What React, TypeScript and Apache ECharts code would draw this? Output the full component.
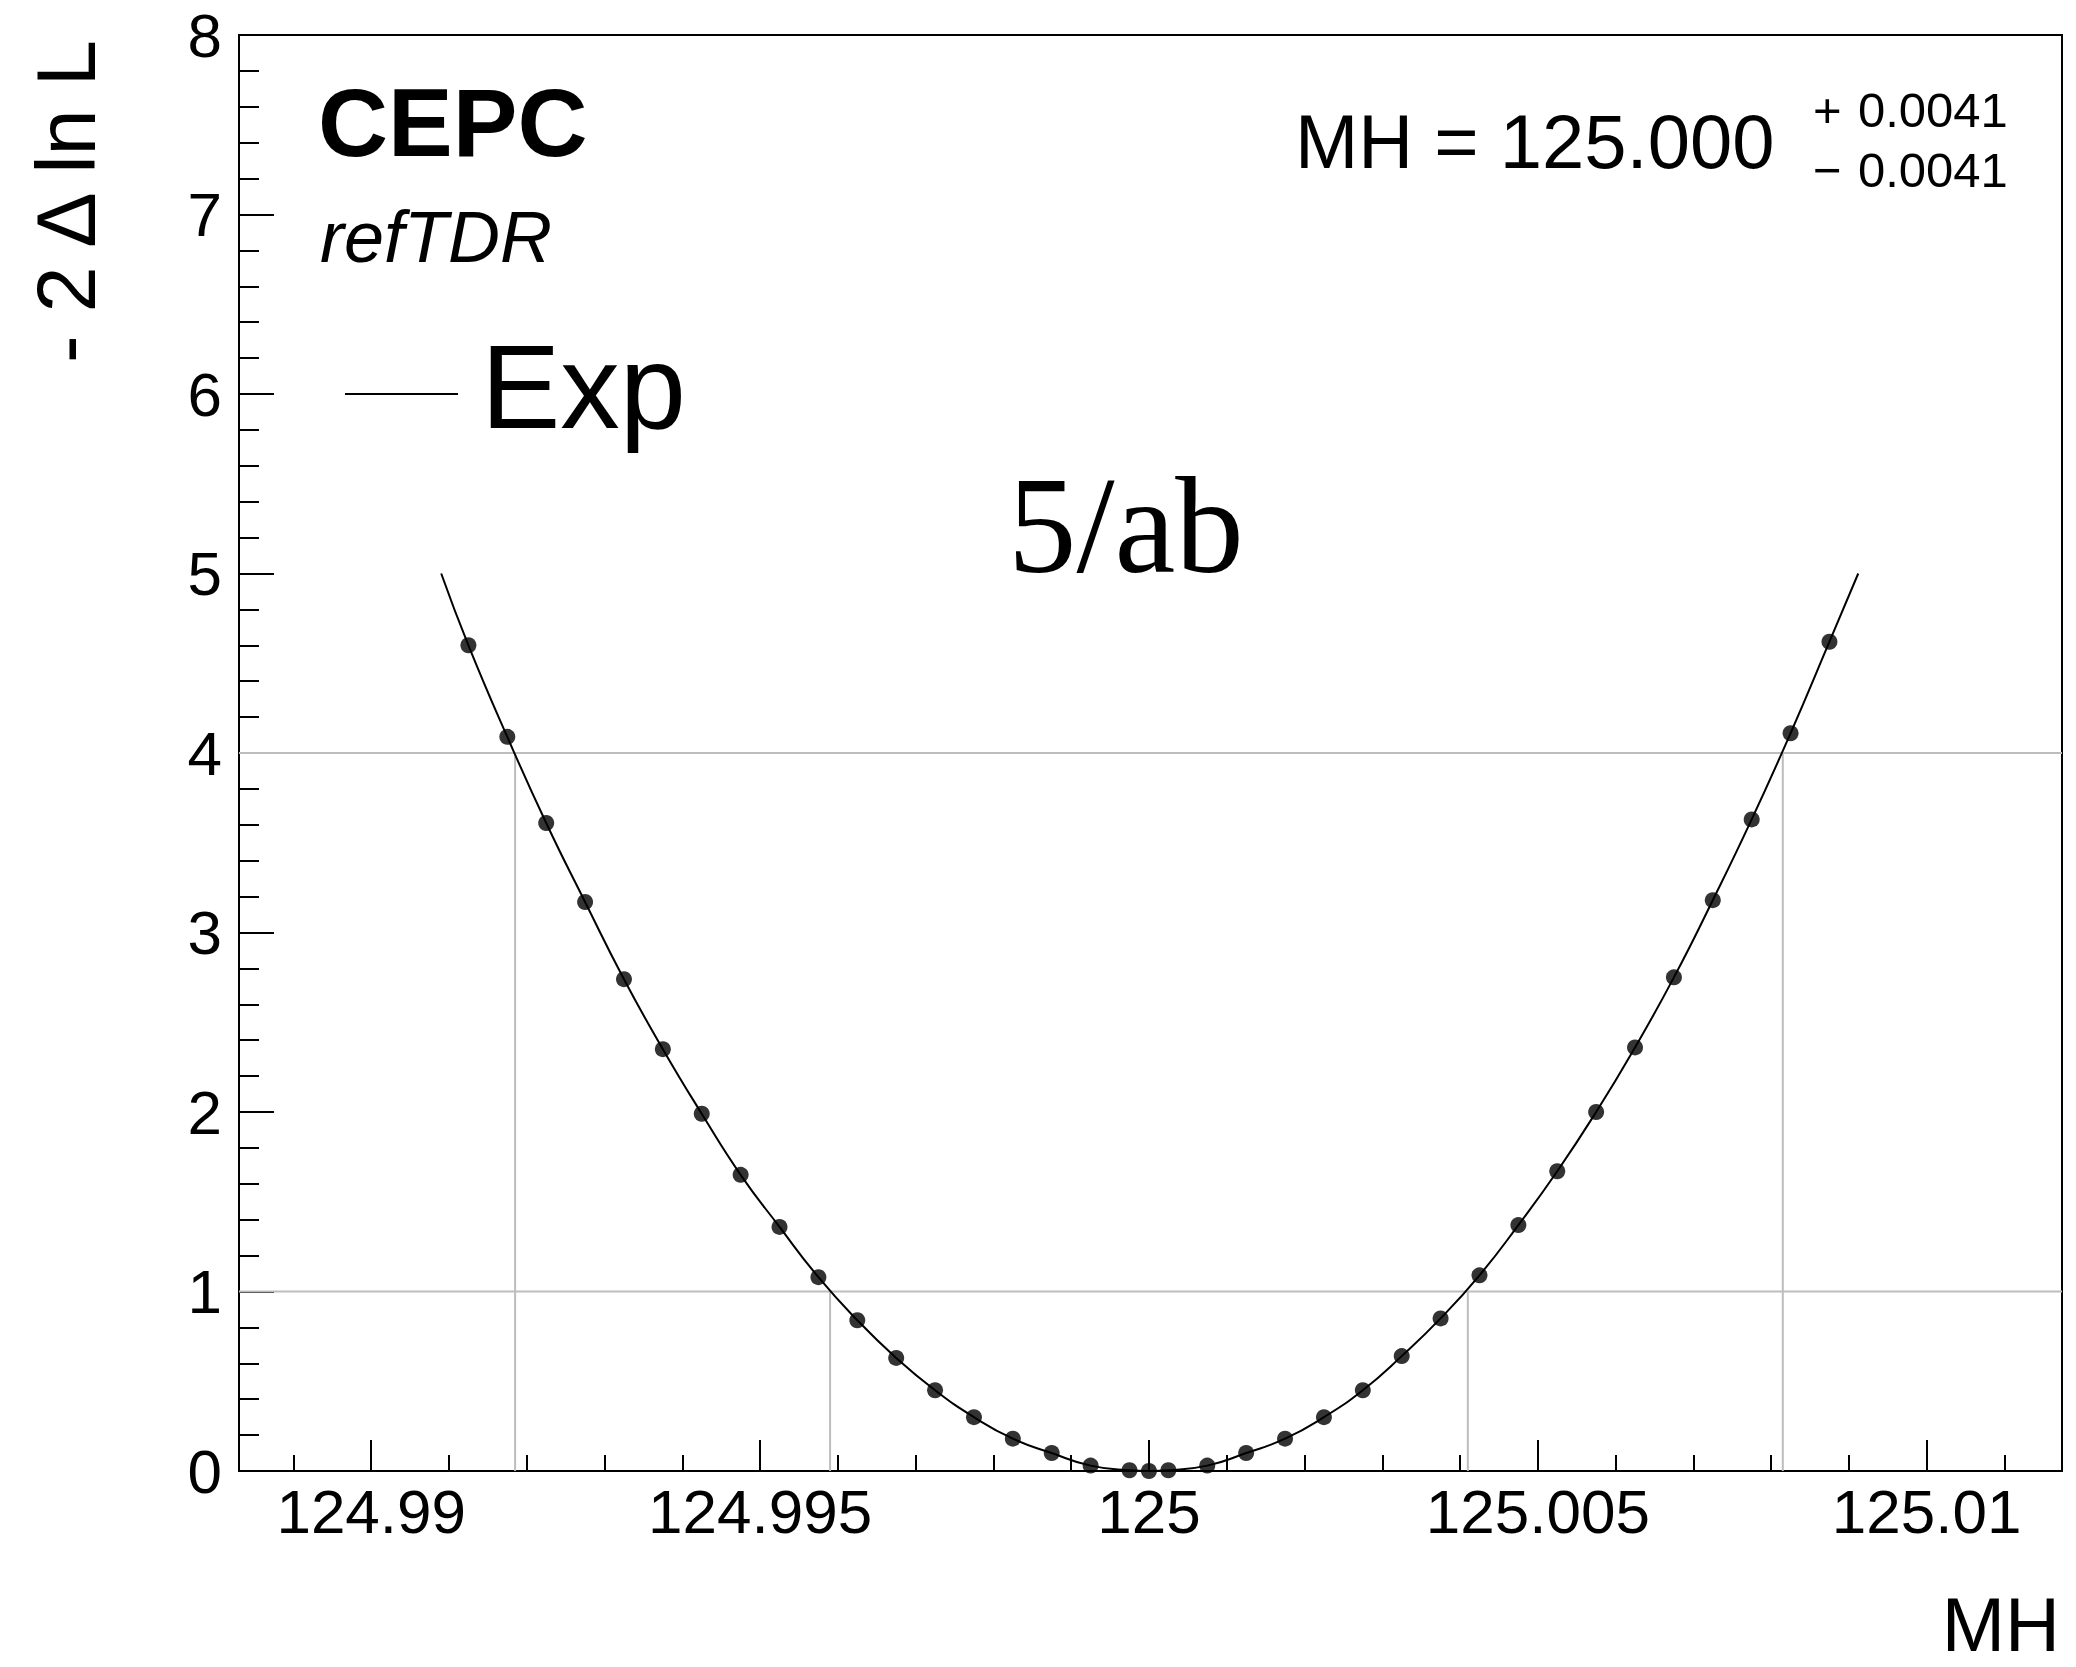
import React, { useEffect, useRef } from 'react';
import * as echarts from 'echarts';

// ---- data ----
const scanMH = [
  124.99125, 124.99175, 124.99225, 124.99275, 124.99325, 124.99375, 124.99425, 124.99475, 124.99525,
  124.99575, 124.99625, 124.99675, 124.99725, 124.99775, 124.99825, 124.99875, 124.99925, 124.99975,
  125.0,
  125.00025, 125.00075, 125.00125, 125.00175, 125.00225, 125.00275, 125.00325, 125.00375, 125.00425,
  125.00475, 125.00525, 125.00575, 125.00625, 125.00675, 125.00725, 125.00775, 125.00825, 125.00875,
];
const scanNLL = [
  4.6, 4.09, 3.61, 3.17, 2.74, 2.35, 1.99, 1.65, 1.36,
  1.08, 0.84, 0.63, 0.45, 0.3, 0.18, 0.1, 0.03, 0.004,
  0,
  0.004, 0.03, 0.1, 0.18, 0.3, 0.45, 0.64, 0.85, 1.09,
  1.37, 1.67, 2.0, 2.36, 2.75, 3.18, 3.63, 4.11, 4.62,
];
const curveEndMH = [124.9909, 125.00912];
const curveEndNLL = [5.0, 5.0];

const sigmaLevels = [1, 4];
const sigmaLowMH = [124.9959, 124.99185];
const sigmaHighMH = [125.0041, 125.00815];

const xMin = 124.9883;
const xMax = 125.01174;
const yMin = 0;
const yMax = 8;

const xMajorTicks = [124.99, 124.995, 125, 125.005, 125.01];
const xMajorLabels = ['124.99', '124.995', '125', '125.005', '125.01'];
const xMinorTicks = [
  124.989, 124.991, 124.992, 124.993, 124.994, 124.996, 124.997, 124.998, 124.999,
  125.001, 125.002, 125.003, 125.004, 125.006, 125.007, 125.008, 125.009, 125.011,
];

const FONT = '"Liberation Sans", Arial, Helvetica, sans-serif';
const SERIF = '"Liberation Serif", "Times New Roman", serif';

const GRID = { left: 239, top: 35, right: 14, bottom: 196 };

export default function App() {
  const ref = useRef<HTMLDivElement>(null);

  useEffect(() => {
    if (!ref.current) return;
    const chart = echarts.init(ref.current, undefined, { renderer: 'svg' });

    const curveData: number[][] = [[curveEndMH[0], curveEndNLL[0]]];
    scanMH.forEach((x, i) => curveData.push([x, scanNLL[i]]));
    curveData.push([curveEndMH[1], curveEndNLL[1]]);

    const scatterData = scanMH.map((x, i) => [x, scanNLL[i]]);

    const grayStyle = { color: '#bdbdbd', width: 2 };
    const graySeries: any[] = [];
    sigmaLevels.forEach((lvl, i) => {
      graySeries.push({
        type: 'line', xAxisIndex: 0, yAxisIndex: 0, silent: true, symbol: 'none', z: 1,
        lineStyle: grayStyle, data: [[xMin, lvl], [xMax, lvl]],
      });
      graySeries.push({
        type: 'line', xAxisIndex: 0, yAxisIndex: 0, silent: true, symbol: 'none', z: 1,
        lineStyle: grayStyle, data: [[sigmaLowMH[i], 0], [sigmaLowMH[i], lvl]],
      });
      graySeries.push({
        type: 'line', xAxisIndex: 0, yAxisIndex: 0, silent: true, symbol: 'none', z: 1,
        lineStyle: grayStyle, data: [[sigmaHighMH[i], 0], [sigmaHighMH[i], lvl]],
      });
    });

    const axisLineStyle = { color: '#000', width: 2 };

    chart.setOption({
      animation: false,
      backgroundColor: '#fff',
      grid: [
        { ...GRID, show: true, borderColor: '#000', borderWidth: 2, backgroundColor: 'transparent', containLabel: false },
        { ...GRID, show: false, containLabel: false },
      ],
      xAxis: [
        {
          type: 'value', gridIndex: 0, min: xMin, max: xMax, position: 'bottom',
          axisLine: { show: true, lineStyle: axisLineStyle },
          axisTick: { show: true, inside: true, length: 31, customValues: xMajorTicks, lineStyle: axisLineStyle },
          axisLabel: {
            show: true, customValues: xMajorTicks, margin: 9,
            fontSize: 62, fontFamily: FONT, color: '#000',
            formatter: (v: number) => {
              let best = 0;
              xMajorTicks.forEach((t, i) => { if (Math.abs(t - v) < Math.abs(xMajorTicks[best] - v)) best = i; });
              return xMajorLabels[best];
            },
          },
          splitLine: { show: false },
          minorTick: { show: false },
        },
        {
          type: 'value', gridIndex: 1, min: xMin, max: xMax, position: 'bottom',
          axisLine: { show: false },
          axisTick: { show: true, inside: true, length: 16, customValues: xMinorTicks, lineStyle: axisLineStyle },
          axisLabel: { show: false },
          splitLine: { show: false },
        },
      ],
      yAxis: [
        {
          type: 'value', gridIndex: 0, min: yMin, max: yMax, interval: 1,
          axisLine: { show: true, lineStyle: axisLineStyle },
          axisTick: { show: true, inside: true, length: 35, lineStyle: axisLineStyle },
          minorTick: { show: true, splitNumber: 5, length: 20, lineStyle: axisLineStyle },
          axisLabel: { show: true, margin: 17, fontSize: 62, fontFamily: FONT, color: '#000' },
          splitLine: { show: false },
        },
        {
          type: 'value', gridIndex: 1, min: yMin, max: yMax, show: false,
        },
      ],
      series: [
        ...graySeries,
        {
          type: 'line', xAxisIndex: 0, yAxisIndex: 0, silent: true, symbol: 'none', smooth: true, z: 3,
          lineStyle: { color: '#000', width: 2 }, data: curveData,
        },
        {
          type: 'scatter', xAxisIndex: 0, yAxisIndex: 0, silent: true, symbol: 'circle', symbolSize: 16, z: 4,
          itemStyle: { color: '#000' }, data: scatterData,
        },
      ],
      graphic: [
        {
          type: 'text', x: 66, y: 40, rotation: Math.PI / 2, z: 100,
          style: { text: '- 2 \u0394 ln L', font: `83px ${FONT}`, fill: '#000', textAlign: 'right', textVerticalAlign: 'middle' },
        },
        {
          type: 'text', x: 2060, y: 1624, z: 100,
          style: { text: 'MH', font: `76px ${FONT}`, fill: '#000', textAlign: 'right', textVerticalAlign: 'middle' },
        },
        {
          type: 'text', x: 318, y: 122, z: 100,
          style: { text: 'CEPC', font: `bold 97px ${FONT}`, fill: '#000', textAlign: 'left', textVerticalAlign: 'middle' },
        },
        {
          type: 'text', x: 320, y: 237, z: 100,
          style: { text: 'refTDR', font: `italic 72px ${FONT}`, fill: '#000', textAlign: 'left', textVerticalAlign: 'middle' },
        },
        {
          type: 'line', z: 100,
          shape: { x1: 345, y1: 394, x2: 458, y2: 394 },
          style: { stroke: '#000', lineWidth: 2 },
        },
        {
          type: 'text', x: 481, y: 386, z: 100,
          style: { text: 'Exp', font: `119px ${FONT}`, fill: '#000', textAlign: 'left', textVerticalAlign: 'middle' },
        },
        {
          type: 'text', x: 1008, y: 526, z: 100,
          style: { text: '5/ab', font: `137px ${SERIF}`, fill: '#000', textAlign: 'left', textVerticalAlign: 'middle' },
        },
        {
          type: 'text', x: 1295, y: 141, z: 100,
          style: { text: 'MH = 125.000', font: `76px ${FONT}`, fill: '#000', textAlign: 'left', textVerticalAlign: 'middle' },
        },
        {
          type: 'text', x: 1813, y: 110, z: 100,
          style: { text: '+', font: `49px ${FONT}`, fill: '#000', textAlign: 'left', textVerticalAlign: 'middle' },
        },
        {
          type: 'text', x: 1858, y: 110, z: 100,
          style: { text: '0.0041', font: `49px ${FONT}`, fill: '#000', textAlign: 'left', textVerticalAlign: 'middle' },
        },
        {
          type: 'text', x: 1813, y: 170, z: 100,
          style: { text: '\u2212', font: `49px ${FONT}`, fill: '#000', textAlign: 'left', textVerticalAlign: 'middle' },
        },
        {
          type: 'text', x: 1858, y: 170, z: 100,
          style: { text: '0.0041', font: `49px ${FONT}`, fill: '#000', textAlign: 'left', textVerticalAlign: 'middle' },
        },
      ],
    });

    return () => chart.dispose();
  }, []);

  return (
    <div
      ref={ref}
      style={{ position: 'absolute', left: 0, top: 0, width: 2076, height: 1667, background: '#fff' }}
    />
  );
}
